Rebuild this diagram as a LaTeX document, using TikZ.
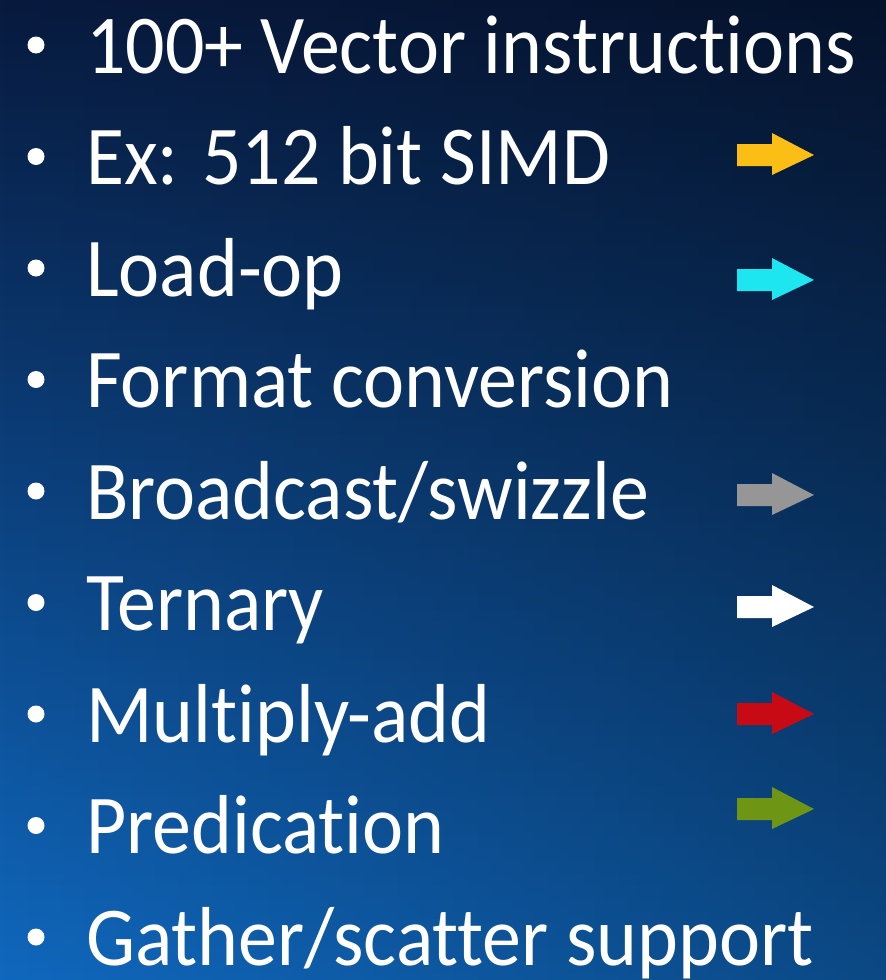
\documentclass[tikz,border=0pt]{standalone}
\usepackage{fontspec}
\setmainfont{Carlito}[Ligatures={NoCommon},FakeStretch=0.93]
\usetikzlibrary{fadings}
\definecolor{bgtop}{RGB}{8,26,62}
\definecolor{bgbot}{RGB}{16,104,190}
\definecolor{ayel}{RGB}{250,190,20}
\definecolor{acya}{RGB}{30,230,240}
\definecolor{agra}{RGB}{150,150,150}
\definecolor{ared}{RGB}{200,10,20}
\definecolor{agrn}{RGB}{110,150,20}
\tikzfading[name=darkright, left color=transparent!100, right color=transparent!0]
\begin{document}
\begin{tikzpicture}[x=1bp,y=-1bp,
  item/.style={anchor=base west,inner sep=0pt,text=white,font=\fontsize{84}{84}\selectfont},
  dot/.style={circle,fill=white,inner sep=0pt,minimum size=17bp}]
\useasboundingbox (0,0) rectangle (886,980);
\shade[top color=bgtop,bottom color=bgbot] (0,0) rectangle (886,980);
\fill[black,opacity=0.3,path fading=darkright] (0,0) rectangle (886,980);
\foreach \t [count=\i] in {100+ Vector instructions,Ex: 512 bit SIMD,Load-op,Format conversion,Broadcast/swizzle,Ternary,Multiply-add,Predication,Gather/scatter support}{
  \pgfmathsetmacro{\yy}{73+(\i-1)*111.5}
  \node[dot] (b\i) at (36,\yy-28) {};
  \node[item] (t\i) at (86,\yy) {\t};
}
\newcommand\myarrow[2]{\fill[fill=#2] (737,#1-11) -- (772,#1-11) -- (772,#1-22) -- (814,#1) -- (772,#1+20) -- (772,#1+11) -- (737,#1+11) -- cycle;}
\myarrow{155}{ayel}
\myarrow{280}{acya}
\myarrow{495}{agra}
\myarrow{607}{white}
\myarrow{714}{ared}
\myarrow{809}{agrn}
\end{tikzpicture}
\end{document}
